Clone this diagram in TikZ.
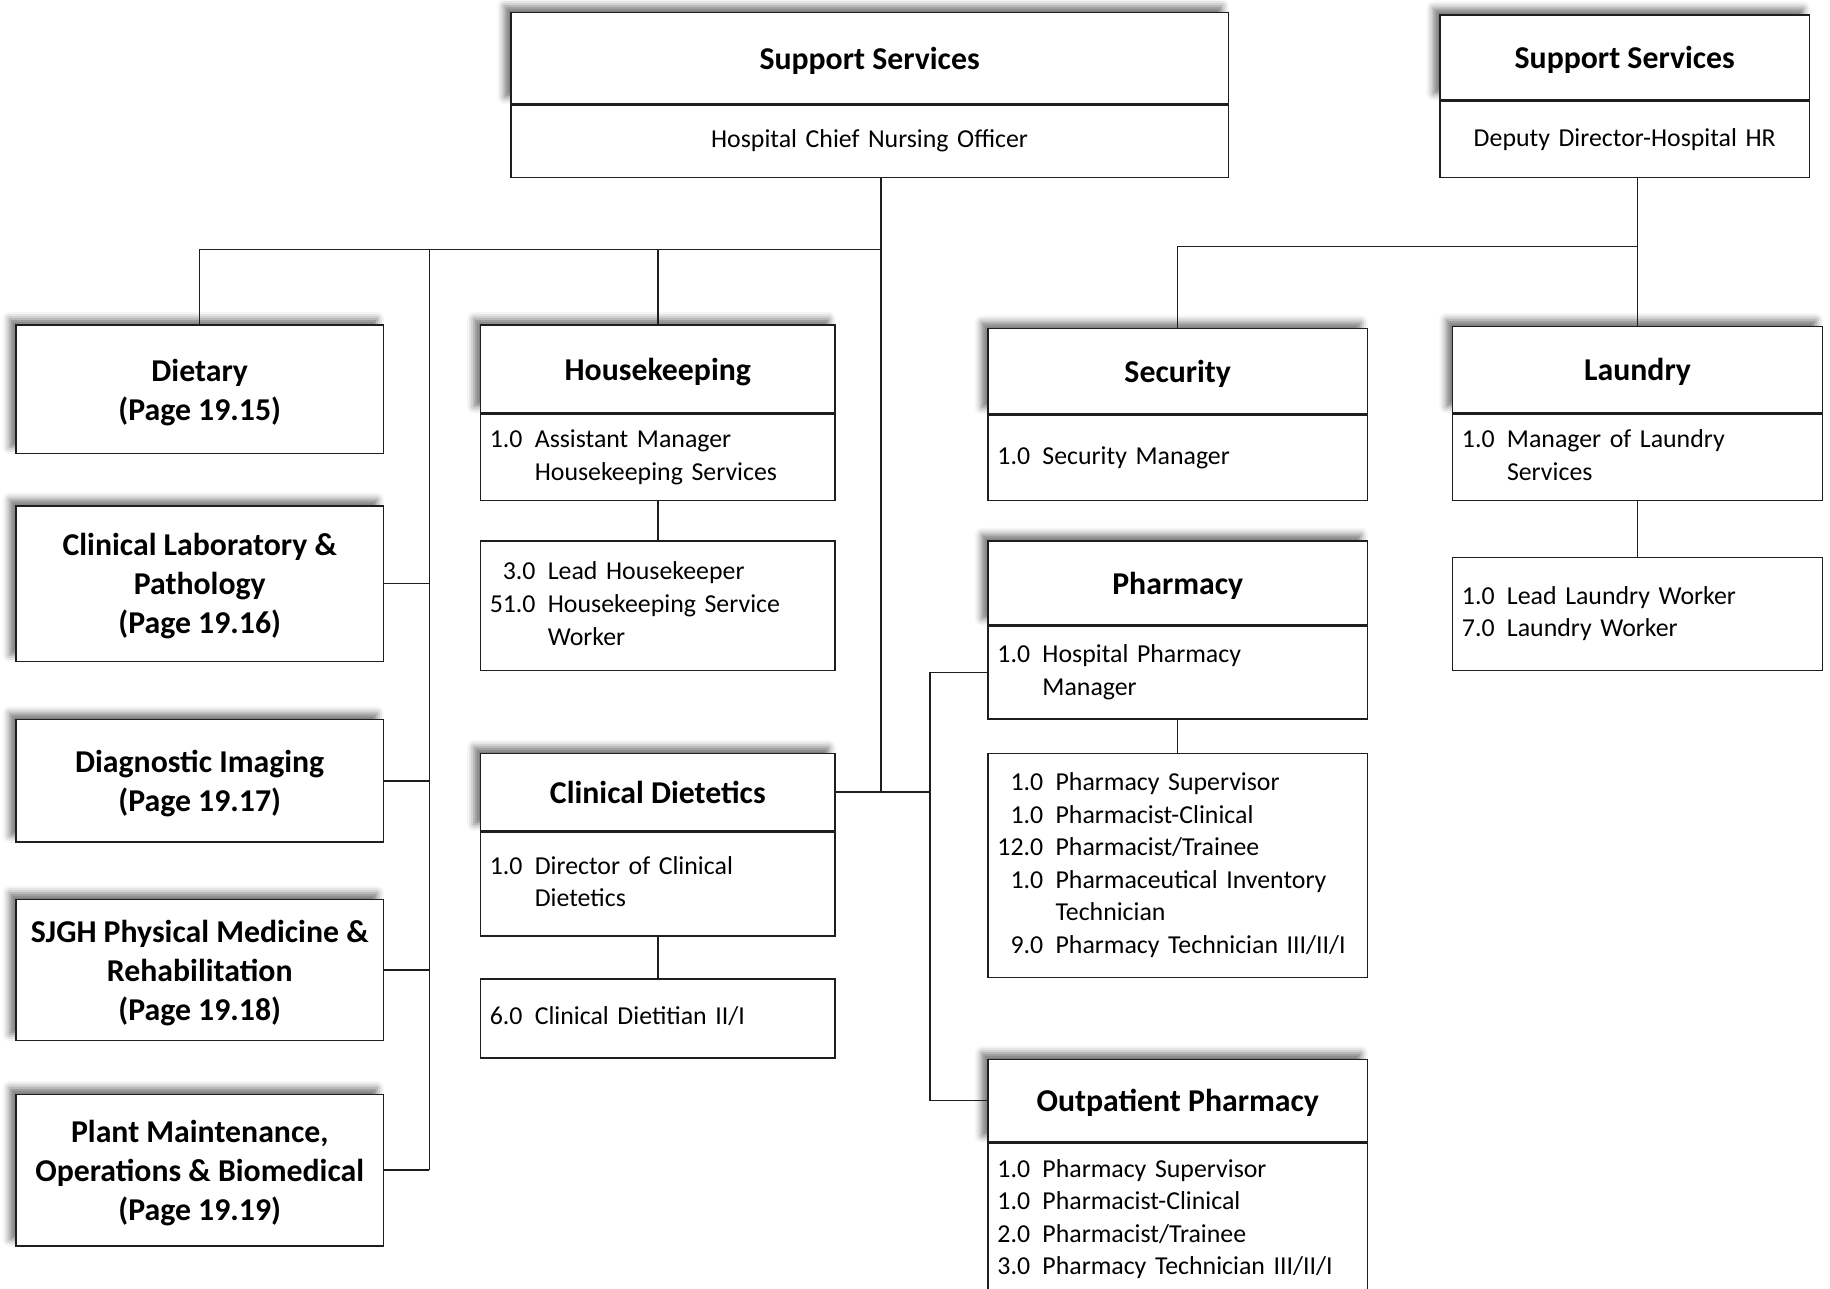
\documentclass[tikz,border=0pt]{standalone}
\usepackage{fontspec}
\setmainfont{Carlito}
\usepackage{tikz}
\usetikzlibrary{
  positioning,
  shadows.blur
}
\definecolor{linecolor}{RGB}{30, 30, 30}
\definecolor{textcolor}{RGB}{0, 0, 0}
\newcommand{\hdfont}{\fontsize{15.5}{19}\selectfont\bfseries}
\newcommand{\bdfont}{\fontsize{12.6}{15.9}\selectfont}
\tikzset{
headbox/.style={
  draw=linecolor,
  line width=0.75pt,
  fill=white,
  blur shadow={shadow xshift=-1.1mm, shadow yshift=1.1mm, shadow blur radius=1.2mm, shadow opacity=55},
  anchor=north west,
  align=center,
  inner sep=0pt,
  text depth=0pt,
  text=textcolor,
  font=\hdfont
},
bodybox/.style={
  draw=linecolor,
  line width=0.75pt,
  fill=white,
  anchor=north west,
  align=left,
  inner xsep=1.6mm,
  inner ysep=0pt,
  text=textcolor,
  font=\bdfont
},
link/.style={
  draw=linecolor,
  line width=0.7pt
}
}

\begin{document}
\begin{tikzpicture}[x=0.02cm, y=-0.02cm]
  \clip (0,0) rectangle (1568,1104);

  % top units
  \node[headbox, minimum width=12.3cm, minimum height=1.56cm] (cno) at (437,10) {Support Services};
  \node[bodybox, align=center, text width=11.98cm, minimum height=1.24cm] (cnob) at (cno.south west) {Hospital Chief Nursing Officer};

  \node[headbox, minimum width=6.34cm, minimum height=1.46cm] (hr) at (1233,12) {Support Services};
  \node[bodybox, align=center, text width=6.02cm, minimum height=1.3cm] (hrb) at (hr.south west) {Deputy Director-Hospital HR};

  % left column
  \node[headbox, minimum width=6.3cm, minimum height=2.2cm] (diet) at (13,278) {Dietary\\(Page 19.15)};
  \node[headbox, minimum width=6.3cm, minimum height=2.66cm] (clab) at (13,433) {Clinical Laboratory \&\\Pathology\\(Page 19.16)};
  \node[headbox, minimum width=6.3cm, minimum height=2.1cm] (dimg) at (13,616) {Diagnostic Imaging\\(Page 19.17)};
  \node[headbox, minimum width=6.3cm, minimum height=2.42cm] (sjgh) at (13,770) {SJGH Physical Medicine \&\\Rehabilitation\\(Page 19.18)};
  \node[headbox, minimum width=6.3cm, minimum height=2.6cm] (plant) at (13,937) {Plant Maintenance,\\Operations \& Biomedical\\(Page 19.19)};

  % housekeeping and clinical dietetics
  \node[headbox, minimum width=6.08cm, minimum height=1.5cm] (hk) at (411,278) {Housekeeping};
  \node[bodybox, text width=5.76cm, minimum height=1.48cm] (hkb) at (hk.south west) {%
    \begin{tabular}{@{}r@{\hspace{6pt}}l@{}}
      1.0 & Assistant Manager\\
          & Housekeeping Services
    \end{tabular}};
  \node[bodybox, text width=5.76cm, minimum height=2.22cm] (hks) at (411,463) {%
    \begin{tabular}{@{}r@{\hspace{6pt}}l@{}}
      3.0 & Lead Housekeeper\\
      51.0 & Housekeeping Service\\
           & Worker
    \end{tabular}};

  \node[headbox, minimum width=6.08cm, minimum height=1.32cm] (cd) at (411,645) {Clinical Dietetics};
  \node[bodybox, text width=5.76cm, minimum height=1.78cm] (cdb) at (cd.south west) {%
    \begin{tabular}{@{}r@{\hspace{6pt}}l@{}}
      1.0 & Director of Clinical\\
          & Dietetics
    \end{tabular}};
  \node[bodybox, text width=5.76cm, minimum height=1.36cm] (cdd) at (411,838) {%
    \begin{tabular}{@{}r@{\hspace{6pt}}l@{}}
      6.0 & Clinical Dietitian II/I
    \end{tabular}};

  % security and pharmacy
  \node[headbox, minimum width=6.5cm, minimum height=1.46cm] (sec) at (846,281) {Security};
  \node[bodybox, text width=6.18cm, minimum height=1.46cm] (secb) at (sec.south west) {%
    \begin{tabular}{@{}r@{\hspace{6pt}}l@{}}
      1.0 & Security Manager
    \end{tabular}};

  \node[headbox, minimum width=6.5cm, minimum height=1.44cm] (ph) at (846,463) {Pharmacy};
  \node[bodybox, text width=6.18cm, minimum height=1.58cm] (phb) at (ph.south west) {%
    \begin{tabular}{@{}r@{\hspace{6pt}}l@{}}
      1.0 & Hospital Pharmacy\\
          & Manager
    \end{tabular}};
  \node[bodybox, text width=6.18cm, minimum height=3.84cm] (phs) at (846,645) {%
    \begin{tabular}{@{}r@{\hspace{6pt}}l@{}}
      1.0 & Pharmacy Supervisor\\
      1.0 & Pharmacist-Clinical\\
      12.0 & Pharmacist/Trainee\\
      1.0 & Pharmaceutical Inventory\\
          & Technician\\
      9.0 & Pharmacy Technician III/II/I
    \end{tabular}};

  \node[headbox, minimum width=6.5cm, minimum height=1.42cm] (oph) at (846,907) {Outpatient Pharmacy};
  \node[bodybox, text width=6.18cm, minimum height=2.6cm] (ophb) at (oph.south west) {%
    \begin{tabular}{@{}r@{\hspace{6pt}}l@{}}
      1.0 & Pharmacy Supervisor\\
      1.0 & Pharmacist-Clinical\\
      2.0 & Pharmacist/Trainee\\
      3.0 & Pharmacy Technician III/II/I
    \end{tabular}};

  % laundry
  \node[headbox, minimum width=6.34cm, minimum height=1.48cm] (lau) at (1244,279) {Laundry};
  \node[bodybox, text width=6.02cm, minimum height=1.48cm] (laub) at (lau.south west) {%
    \begin{tabular}{@{}r@{\hspace{6pt}}l@{}}
      1.0 & Manager of Laundry\\
          & Services
    \end{tabular}};
  \node[bodybox, text width=6.02cm, minimum height=1.94cm] (laus) at (1244,477) {%
    \begin{tabular}{@{}r@{\hspace{6pt}}l@{}}
      1.0 & Lead Laundry Worker\\
      7.0 & Laundry Worker
    \end{tabular}};

  % connectors
  \coordinate (lbus) at (368,214);
  \coordinate (cbus) at (755,214);
  \coordinate (pbus) at (797,680);
  \coordinate (rbus) at (1403,211);

  \draw[link] (cbus |- cnob.south) -- (cbus |- cd.east);
  \draw[link] (diet.north) -- (diet.north |- cbus) -- (cbus);
  \draw[link] (hk.north) -- (hk.north |- cbus);
  \draw[link] (lbus) -- (lbus |- plant.east);
  \draw[link] (clab.east) -- (clab.east -| lbus);
  \draw[link] (dimg.east) -- (dimg.east -| lbus);
  \draw[link] (sjgh.east) -- (sjgh.east -| lbus);
  \draw[link] (plant.east) -- (plant.east -| lbus);
  \draw[link] (hkb.south) -- (hks.north);
  \draw[link] (cdb.south) -- (cdd.north);
  \draw[link] (cd.east) -- (cd.east -| pbus);
  \draw[link] (phb.west) -- (phb.west -| pbus) -- (oph.west -| pbus) -- (oph.west);
  \draw[link] (phb.south) -- (phs.north);
  \draw[link] (lau.north) -- (lau.north |- hrb.south);
  \draw[link] (sec.north) -- (sec.north |- rbus) -- (rbus);
  \draw[link] (laub.south) -- (laus.north);
\end{tikzpicture}
\end{document}
